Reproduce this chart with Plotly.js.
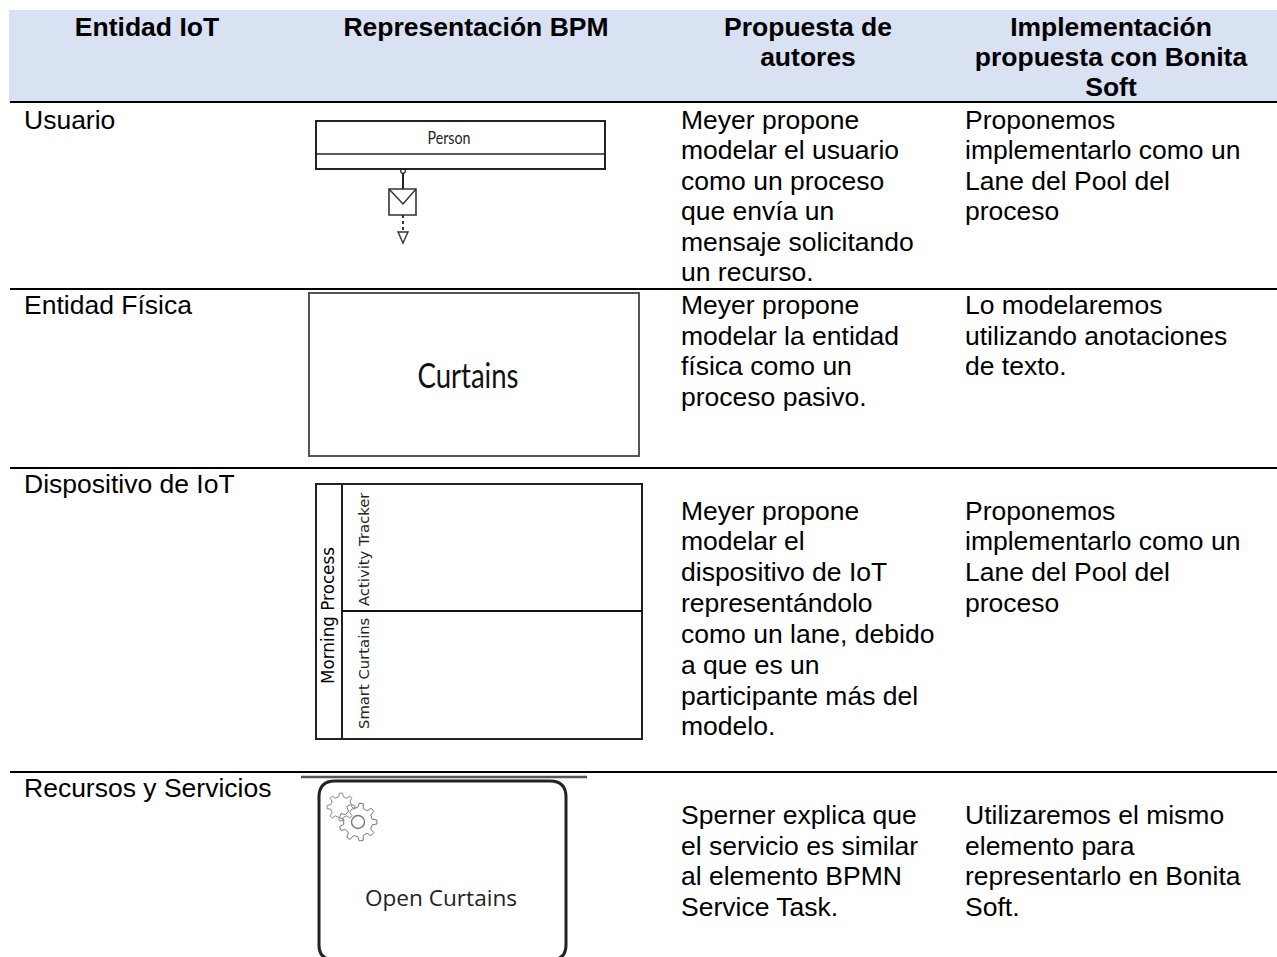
<!DOCTYPE html>
<html><head><meta charset="utf-8">
<script src="https://cdn.plot.ly/plotly-3.0.1.min.js"></script>
<style>html,body{margin:0;padding:0;background:#fff}#c{width:1277px;height:957px}</style>
</head><body><div id="c"></div>
<script>
const FONT = '"Liberation Sans", Arial, sans-serif';
const headerLines = ['Entidad IoT','Representación BPM','Propuesta de','autores','Implementación','propuesta con Bonita','Soft'];
const headerX =     [147, 476, 808, 808, 1111, 1111, 1111];
const headerY =     [27, 27, 27, 57, 27, 57, 87];

const col1Text = ['Usuario','Entidad Física','Dispositivo de IoT','Recursos y Servicios'];
const col1Y =    [120, 305, 484, 788];

const col3Text = ['Meyer propone','modelar el usuario','como un proceso','que envía un','mensaje solicitando','un recurso.',
  'Meyer propone','modelar la entidad','física como un','proceso pasivo.',
  'Meyer propone','modelar el','dispositivo de IoT','representándolo','como un lane, debido','a que es un','participante más del','modelo.',
  'Sperner explica que','el servicio es similar','al elemento BPMN','Service Task.'];
const col3Y = [120,150,181,211,242,272, 305,336,366,397, 511,541,572,603,634,665,696,726, 815,846,876,907];

const col4Text = ['Proponemos','implementarlo como un','Lane del Pool del','proceso',
  'Lo modelaremos','utilizando anotaciones','de texto.',
  'Proponemos','implementarlo como un','Lane del Pool del','proceso',
  'Utilizaremos el mismo','elemento para','representarlo en Bonita','Soft.'];
const col4Y = [120,150,181,211, 305,336,366, 511,541,572,603, 815,846,876,907];

const col1X = 24, col3X = 681, col4X = 965;
const ruleY = [102, 289, 468, 772];
const TEXT_SIZE = 26.5, NUDGE = 2;

const line = (x0,y0,x1,y1,color,width,dash) => ({type:'line',xref:'x',yref:'y',x0,y0,x1,y1,layer:'above',line:{color,width,dash:dash||'solid'}});
const rect = (x0,y0,x1,y1,color,width) => ({type:'rect',xref:'x',yref:'y',x0,y0,x1,y1,layer:'above',line:{color,width},fillcolor:'rgba(0,0,0,0)'});
const path = (d,color,width,fill) => ({type:'path',xref:'x',yref:'y',path:d,layer:'above',line:{color,width},fillcolor:fill||'rgba(0,0,0,0)'});

function gear(cx,cy,rOut,rIn,n){
  let d='';
  for(let i=0;i<n;i++){
    const a=i/n*2*Math.PI, s=Math.PI/n;
    const pts=[[rIn,a-s*0.55],[rOut,a-s*0.3],[rOut,a+s*0.3],[rIn,a+s*0.55]];
    pts.forEach((p,j)=>{
      const x=(cx+p[0]*Math.cos(p[1])).toFixed(1), y=(cy+p[0]*Math.sin(p[1])).toFixed(1);
      d+=(i===0&&j===0?'M':'L')+x+','+y+' ';
    });
  }
  return d+'Z';
}
function circle(cx,cy,r,color,width){
  return {type:'circle',xref:'x',yref:'y',x0:cx-r,x1:cx+r,y0:cy-r,y1:cy+r,layer:'above',line:{color,width},fillcolor:'rgba(255,255,255,0)'};
}

const shapes = [
  {type:'rect',xref:'x',yref:'y',x0:9,x1:1277,y0:10,y1:102,layer:'below',line:{width:0},fillcolor:'#D9E2F3'},
  ...ruleY.map(y=>line(10,y,1277,y,'#000',2)),
  // Person pool
  rect(316,121,605,169,'#222',2),
  line(316,154,605,154,'#222',1.6),
  circle(403,171,2.3,'#222',1.2),
  line(403,173,403,189,'#222',2),
  rect(389,189,416,215,'#333',1.6),
  path('M389,189 L403,204 L416,189','#333',1.5),
  line(403,215,403,232,'#333',2,'3px,3px'),
  path('M398,232 L408,232 L403,243 Z','#333',1.4),
  // Curtains
  rect(309,293,639,456,'#555',2),
  // Swimlane
  rect(316,484,642,739,'#222',2),
  line(342,484,342,739,'#222',2),
  line(342,611,642,611,'#111',2),
  // Service task
  line(301,777,587,777,'#555',2.5),
  path('M335,781 L550,781 Q566,781 566,797 L566,945 Q566,960 550,960 L335,960 Q319,960 319,945 L319,797 Q319,781 335,781 Z','#222',3),
  path(gear(341,807,14,10.5,8),'#888',1),
  path(gear(358,822,19,14.5,9),'#777',1),
  circle(358,822,6.5,'#777',1.4)
];

const T = (xs,ys,txt,pos) => ({type:'scatter',mode:'text',x:xs,y:ys.map(y=>y+NUDGE),text:txt,textposition:pos,hoverinfo:'skip',showlegend:false,cliponaxis:false,
  textfont:{family:FONT,size:TEXT_SIZE,color:'#000'}});
const L = (x,y,txt,family,size,color) => ({type:'scatter',mode:'text',x:[x],y:[y],text:[txt],textposition:'middle center',hoverinfo:'skip',showlegend:false,cliponaxis:false,
  textfont:{family,size,color}});

const data = [
  T(headerX,headerY,headerLines.map(s=>'<b>'+s+'</b>'),'middle center'),
  T(col1Text.map(()=>col1X),col1Y,col1Text,'middle right'),
  T(col3Text.map(()=>col3X),col3Y,col3Text,'middle right'),
  T(col4Text.map(()=>col4X),col4Y,col4Text,'middle right'),
  L(449,140,'Person','Lato, sans-serif',17,'#222'),
  L(468,379,'Curtains','Lato, sans-serif',35,'#111'),
  L(441,900,'Open Curtains','"Open Sans", sans-serif',22.6,'#222')
];

const rot = (text,x,y,size,color) => ({text,x,y,xref:'x',yref:'y',showarrow:false,textangle:-90,xanchor:'center',yanchor:'middle',font:{family:'"DejaVu Sans", sans-serif',size,color}});
const annotations = [
  rot('Morning Process',328,616,16.8,'#000'),
  rot('Activity Tracker',363,549,14.8,'#222'),
  rot('Smart Curtains',363,674,14.8,'#222')
];

const layout = {
  width:1277,height:957,margin:{l:0,r:0,t:0,b:0},
  paper_bgcolor:'#fff',plot_bgcolor:'#fff',showlegend:false,
  xaxis:{range:[0,1277],visible:false,fixedrange:true},
  yaxis:{range:[957,0],visible:false,fixedrange:true},
  shapes,annotations
};
Plotly.newPlot('c',data,layout,{displayModeBar:false,staticPlot:true}).then(gd=>{
  // The reference's embedded pictures use condensed lettering: fit these labels to their width.
  const fit={'Person':43,'Curtains':101};
  gd.querySelectorAll('.textpoint text').forEach(t=>{
    const w=fit[t.textContent];
    if(w){t.setAttribute('textLength',w);t.setAttribute('lengthAdjust','spacingAndGlyphs');}
  });
});
</script></body></html>
